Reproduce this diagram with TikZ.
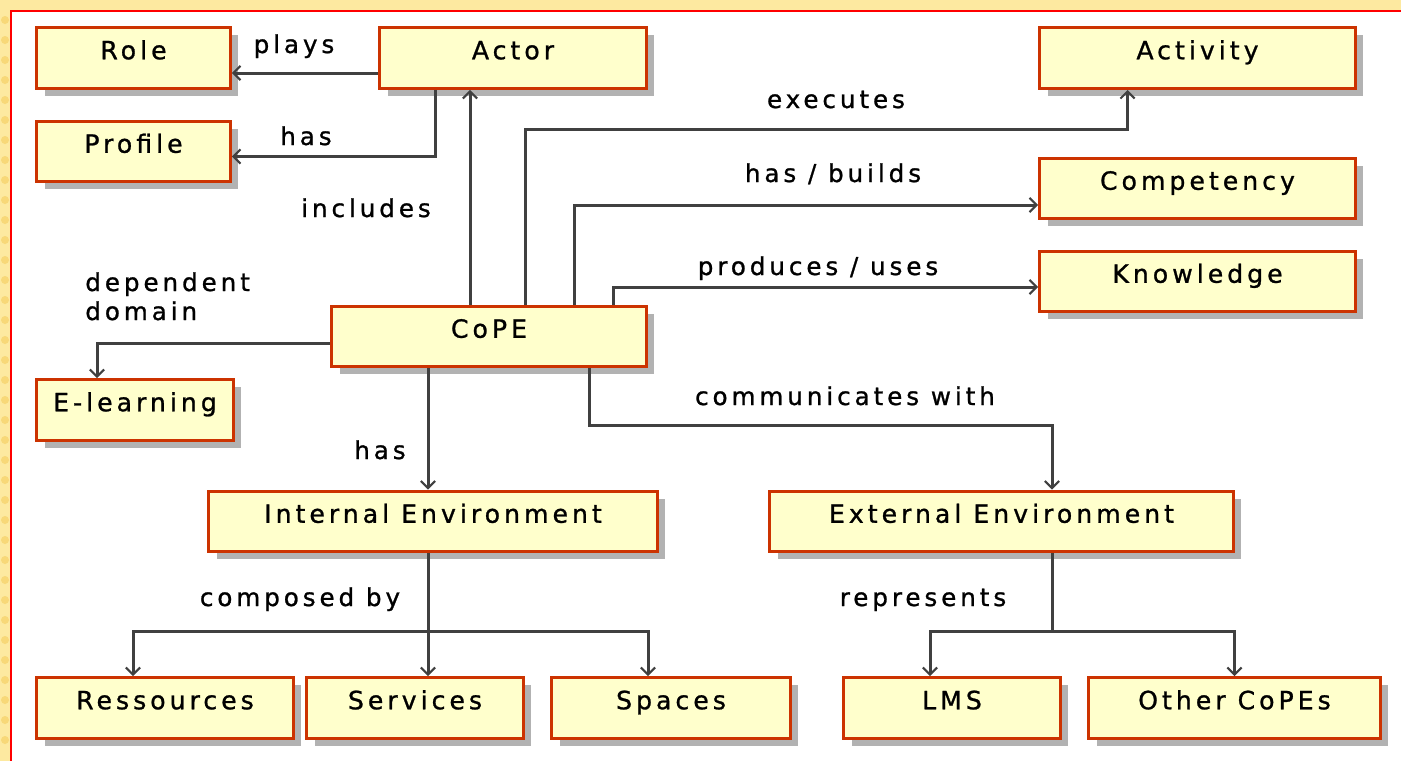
\documentclass[tikz,border=0pt]{standalone}
\usepackage{fontspec}
\setmainfont{DejaVu Sans}[LetterSpace=16, FakeBold=1]
\usepackage{tikz}
\usetikzlibrary{arrows.meta}
\usetikzlibrary{positioning, shadows, calc}
\definecolor{boxred}{HTML}{CC3300}
\definecolor{boxfill}{HTML}{FFFFCC}
\definecolor{shadowgray}{HTML}{B2B2B2}
\definecolor{linkgray}{HTML}{404040}
\definecolor{bandorange}{HTML}{FDE9A0}
\definecolor{dotorange}{HTML}{F8D878}
\tikzset{
concept/.style = { rectangle, draw = boxred, fill = boxfill, line width = 0.06cm, minimum height = 1.22cm, text height = 0.35cm, text depth = 0.3cm, font = \fontsize{14.3}{16}\selectfont, drop shadow = {shadow xshift = 0.16cm, shadow yshift = -0.15cm, fill = shadowgray, opacity = 1} },
rel/.style = { anchor = base, inner sep = 0pt, font = \fontsize{14}{16}\selectfont },
plain/.style = { draw = linkgray, line width = 0.06cm },
link/.style = { plain, -{Straight Barb[length = 4pt, width = 8pt, line width = 1.2pt]} },
}

\begin{document}
\begin{tikzpicture}[x = 0.02cm, y = -0.02cm]
    \useasboundingbox (0, 0) rectangle (1401, 761);
    % frame
    \fill[bandorange] (0, 0) rectangle (1401, 761);
    \foreach \yy in {20, 40, ..., 740} { \fill[dotorange] (5, \yy) circle (4); }
    \fill[white] (11, 11) rectangle (1401, 761);
    \draw[red, line width = 0.05cm] (11, 761) -- (11, 11) -- (1401, 11);
    % concepts
    \node[concept, minimum width = 3.88cm] (role) at (133.5, 58) {Role};
    \node[concept, minimum width = 5.34cm] (actor) at (513, 58) {Actor};
    \node[concept, minimum width = 6.32cm] (activity) at (1197.5, 58) {Activity};
    \node[concept, minimum width = 3.88cm] (profile) at (133.5, 151.5) {Profile};
    \node[concept, minimum width = 6.32cm] (competency) at (1197.5, 188.5) {Competency};
    \node[concept, minimum width = 6.32cm] (knowledge) at (1197.5, 281.5) {Knowledge};
    \node[concept, minimum width = 6.30cm] (cope) at (489, 336.5) {CoPE};
    \node[concept, minimum width = 3.94cm] (elearning) at (135, 410) {E-learning};
    \node[concept, minimum width = 8.98cm] (internal) at (433, 521.5) {Internal Environment};
    \node[concept, minimum width = 9.28cm] (external) at (1001.5, 521.5) {External Environment};
    \node[concept, minimum width = 5.14cm] (ressources) at (165, 708) {Ressources};
    \node[concept, minimum width = 4.34cm] (services) at (415, 708) {Services};
    \node[concept, minimum width = 4.78cm] (spaces) at (671, 708) {Spaces};
    \node[concept, minimum width = 4.34cm] (lms) at (952, 708) {LMS};
    \node[concept, minimum width = 5.84cm] (others) at (1234.5, 708) {Other CoPEs};
    % relations
    \draw[link] ($(actor.west) + (0, 15)$) -- ($(role.east) + (0, 15)$);
    \draw[link] ($(actor.south) + (-78, 0)$) |- ($(profile.east) + (0, 5)$);
    \draw[link] ($(cope.north) + (-19, 0)$) -- ($(actor.south) + (-43, 0)$);
    \draw[link] ($(cope.north) + (36, 0)$) |- ($(activity.south) + (-70, 40)$) -- ($(activity.south) + (-70, 0)$);
    \draw[link] ($(cope.north) + (85, 0)$) |- ($(competency.west) + (0, 16.5)$);
    \draw[link] ($(cope.north) + (124, 0)$) |- ($(knowledge.west) + (0, 5.5)$);
    \draw[link] ($(cope.west) + (0, 6.5)$) -| ($(elearning.north) + (-38, 0)$);
    \draw[link] ($(cope.south) + (-61, 0)$) -- ($(internal.north) + (-5, 0)$);
    \draw[link] ($(cope.south) + (100, 0)$) |- ($(external.north) + (50.5, -64)$) -- ($(external.north) + (50.5, 0)$);
    \coordinate (injoin) at ($(internal.south) + (-5, 78)$);
    \draw[plain] ($(internal.south) + (-5, 0)$) -- (injoin);
    \draw[link] (injoin) -| ($(ressources.north) + (-32, 0)$);
    \draw[link] (injoin) -- ($(services.north) + (13, 0)$);
    \draw[link] (injoin) -| ($(spaces.north) + (-23, 0)$);
    \coordinate (exjoin) at ($(external.south) + (50.5, 78)$);
    \draw[plain] ($(external.south) + (50.5, 0)$) -- (exjoin);
    \draw[link] (exjoin) -| ($(lms.north) + (-22, 0)$);
    \draw[link] (exjoin) -| (others.north);
    % relation labels
    \node[rel] (lplays) at (294, 53) {plays};
    \node[rel] (lhasprofile) at (306, 145) {has};
    \node[rel] (lincludes) at (366, 217) {includes};
    \node[rel] (lexecutes) at (836, 108) {executes};
    \node[rel] (lbuilds) at (833, 182) {has / builds};
    \node[rel] (luses) at (818, 275) {produces / uses};
    \node[rel, anchor = base west] (ldependent) at (85, 291) {dependent};
    \node[rel, anchor = base west] (ldomain) at (85, 320) {domain};
    \node[rel] (lhasenv) at (380, 459) {has};
    \node[rel] (lcommunicates) at (845, 405) {communicates with};
    \node[rel] (lcomposed) at (300, 606) {composed by};
    \node[rel] (lrepresents) at (923, 606) {represents};
\end{tikzpicture}
\end{document}
